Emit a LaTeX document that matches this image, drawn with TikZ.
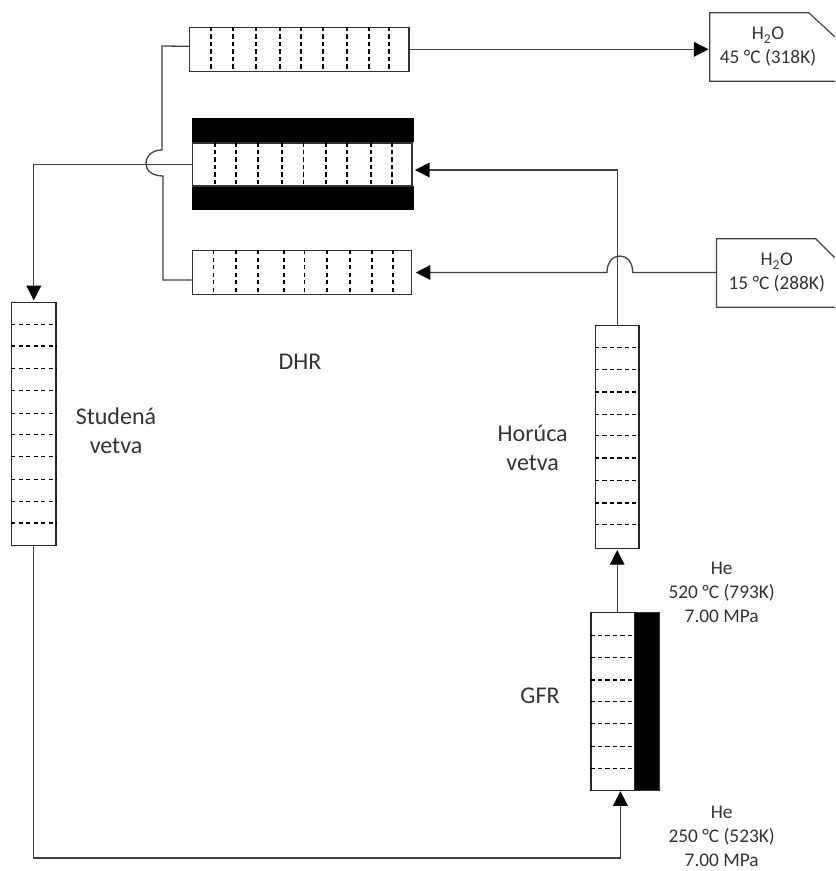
\documentclass[tikz,border=0pt]{standalone}
\usepackage{fontspec}
\setmainfont{Carlito}
\usetikzlibrary{arrows.meta}
\begin{document}
\begin{tikzpicture}[x=0.03cm, y=-0.03cm,
    hxunit/.style={rectangle, draw=black!80, line width=1pt, fill=white, inner sep=0pt, minimum width=6.58cm, minimum height=1.31cm},
    leg/.style={rectangle, draw=black!85, line width=1pt, fill=white, inner sep=0pt, minimum width=1.33cm, minimum height=7.3cm},
    shield/.style={rectangle, draw=black, fill=black, inner sep=0pt},
    baffle/.style={draw=black, line width=0.9pt, dash pattern=on 3.6pt off 2.8pt},
    tankbox/.style={rectangle, inner sep=0pt, minimum height=2.04cm, align=center, text=black!80, font=\fontsize{16.5}{20.4}\selectfont},
    tankline/.style={draw=black!75, line width=1pt},
    pipe/.style={draw=black!75, line width=1.1pt},
    flow/.style={-{Triangle[length=12.5pt,width=12.5pt,color=black]}, shorten >=1pt, draw=black!75, line width=1.1pt},
    small/.style={align=center, inner sep=0pt, text=black!80, font=\fontsize{16.5}{20.4}\selectfont},
    big/.style={align=center, text=black!80, font=\fontsize{20.5}{25}\selectfont}
]
    \useasboundingbox (0,0) rectangle (835,871);

    % Heat exchangers
    \node[hxunit] (topHx) at (299.3,49.3) {};
    \node[shield, minimum width=6.63cm, minimum height=0.7cm] (midShieldTop) at (302.8,130) {};
    \node[shield, minimum width=6.63cm, minimum height=0.7cm] (midShieldBot) at (302.8,197.5) {};
    \node[hxunit, minimum height=1.29cm] (midHx) at (302.3,164.5) {};
    \node[hxunit] (botHx) at (302,272.5) {};

    % Legs and reactor
    \node[leg] (coldLeg) at (33.8,423.8) {};
    \node[leg, minimum width=1.31cm, minimum height=6.68cm] (hotLeg) at (617.2,437) {};
    \node[shield, draw=black!80, minimum width=0.73cm, minimum height=5.34cm] (gfrShield) at (646.8,701.2) {};
    \node[leg, minimum width=1.31cm, minimum height=5.34cm] (gfr) at (612.9,701.2) {};

    % Baffles
    \foreach \x in {211,233,256,280,301,323,347,369,389}
        \draw[baffle] (\x,0 |- topHx.north) -- (\x,0 |- topHx.south);
    \foreach \x in {215,236,258,282,303.5,326,347,371,392}
        \draw[baffle] (\x,0 |- midHx.north) -- (\x,0 |- midHx.south);
    \foreach \x in {213.5,236,258,284,304.5,327,350,372,393}
        \draw[baffle] (\x,0 |- botHx.north) -- (\x,0 |- botHx.south);
    \foreach \y in {324.7,346,368.3,390.7,413.3,434.3,456.7,479.3,501.7,523}
        \draw[baffle] (coldLeg.west |- 0,\y) -- (coldLeg.east |- 0,\y);
    \foreach \y in {347.3,369.7,392,414.7,435.7,458,480.7,503,524.3}
        \draw[baffle] (hotLeg.west |- 0,\y) -- (hotLeg.east |- 0,\y);
    \foreach \y in {635.3,657.7,680,701.3,723.7,746.3,768.7}
        \draw[baffle] (gfr.west |- 0,\y) -- (gfr.east |- 0,\y);

    % Water tanks
    \node[tankbox, minimum width=3.48cm] (outTank) at (768,47) {H\textsubscript{2}O\\45 °C (318K)};
    \node[tankbox, minimum width=3.6cm] (inTank) at (776.7,273) {H\textsubscript{2}O\\15 °C (288K)};
    \draw[tankline] (outTank.south west) ++(125,0) -- (outTank.south west) -- (outTank.north west) -- ++(99,0) -- ++(26,24);
    \draw[tankline] (inTank.south west) ++(118.3,0) -- (inTank.south west) -- (inTank.north west) -- ++(99.3,0) -- ++(19,19);

    % Labels
    \node[big] (dhrLabel) at (300,362) {DHR};
    \node[big] (coldLabel) at (116,431) {Studená\\vetva};
    \node[big] (hotLabel) at (532.7,448) {Horúca\\vetva};
    \node[big] (gfrLabel) at (540,696) {GFR};
    \node[small] (hotHe) at (721.7,592) {He\\520 °C (793K)\\7.00 MPa};
    \node[small] (coldHe) at (721.7,836.5) {He\\250 °C (523K)\\7.00 MPa};

    % Pipes
    \coordinate (gfrIn) at (620.4,790);
    \draw[pipe] ([yshift=0.09cm]topHx.west) -- (162,46) -- (162,150) .. controls (152,150) and (146,156) .. (146,164) .. controls (146,171) and (153,176) .. (163,176) -- (163,280) -- ([yshift=-0.225cm]botHx.west);
    \draw[flow] (midHx.west) -| (coldLeg.north);
    \draw[flow] (topHx.east) -- (topHx.east -| outTank.west);
    \draw[flow] (hotLeg.north) |- ([yshift=-0.165cm,xshift=1pt]midHx.east);
    \draw[flow] (inTank.west |- botHx.east) -- (632.7,272.5) .. controls (632.7,262) and (627,256) .. (620,256) .. controls (613,256) and (607,262) .. (607,272.5) -- ([xshift=2pt]botHx.east);
    \draw[flow] (gfr.north -| hotLeg.south) -- (hotLeg.south);
    \draw[flow] (coldLeg.south) |- (gfrIn |- 0,858) -- (gfrIn);
\end{tikzpicture}
\end{document}
